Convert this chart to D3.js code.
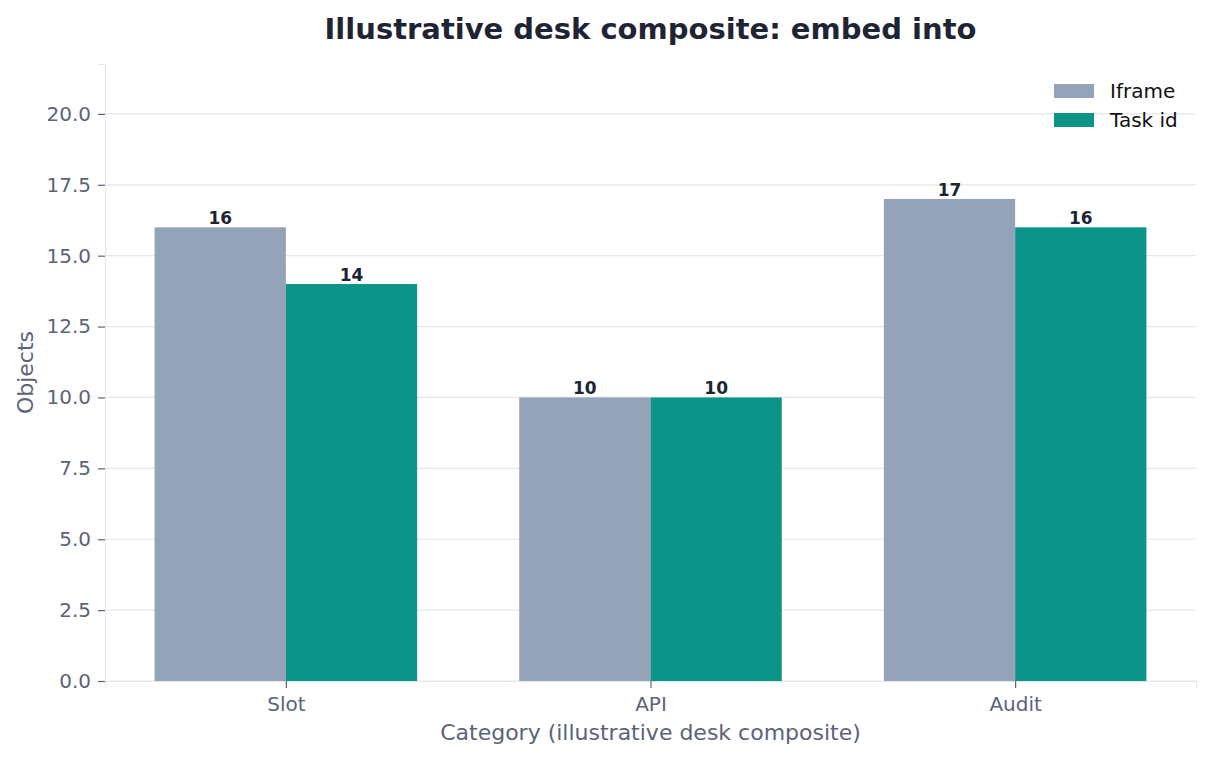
<!DOCTYPE html>
<html>
<head>
<meta charset="utf-8">
<script src="https://cdn.jsdelivr.net/npm/d3@7"></script>
<style>
  body { margin: 0; background: #fff; }
  text { font-family: "DejaVu Sans", sans-serif; }
</style>
</head>
<body>
<div id="chart"></div>
<script>
var categories = ['Slot', 'API', 'Audit'];
var seriesNames = ['Iframe', 'Task id'];
var iframeValues = [16, 10, 17];
var taskIdValues = [14, 10, 16];
var yTicks = [0, 2.5, 5, 7.5, 10, 12.5, 15, 17.5, 20];
var colors = ['#94a3b8', '#0d9488'];

var width = 1212, height = 760;
var margin = {top: 64, right: 16, bottom: 79, left: 105};
var innerW = width - margin.left - margin.right,
  innerH = height - margin.top - margin.bottom;

var svg = d3.select('#chart')
  .append('svg')
  .attr('width', width)
  .attr('height', height);

var g = svg.append('g')
  .attr('transform', 'translate(' + margin.left + ',' + margin.top + ')');

var barW = 0.36;
var xScale = d3.scaleLinear()
  .domain([-barW - 0.136, categories.length - 1 + barW + 0.136])
  .range([0, innerW]);
var yMax = d3.max(iframeValues.concat(taskIdValues)) * 1.28;
var yScale = d3.scaleLinear()
  .domain([0, yMax])
  .range([innerH, 0]);

// grid
g.selectAll('.grid')
  .data(yTicks)
  .enter()
  .append('line')
  .attr('class', 'grid')
  .attr('x1', 0)
  .attr('x2', innerW)
  .attr('y1', function(d) { return yScale(d); })
  .attr('y2', function(d) { return yScale(d); })
  .attr('stroke', '#e5e7eb')
  .attr('stroke-width', 1.2);

var series = [iframeValues, taskIdValues];
series.forEach(function(vals, s) {
  var off = (s === 0 ? -barW : 0);
  g.selectAll('.bar' + s)
    .data(vals)
    .enter()
    .append('rect')
    .attr('fill', colors[s])
    .attr('x', function(d, i) { return xScale(i + off); })
    .attr('y', function(d) { return yScale(d); })
    .attr('width', xScale(barW) - xScale(0))
    .attr('height', function(d) { return innerH - yScale(d); });
  g.selectAll('.lab' + s)
    .data(vals)
    .enter()
    .append('text')
    .attr('x', function(d, i) { return xScale(i + off + barW / 2); })
    .attr('y', function(d) { return yScale(d) - 3; })
    .attr('text-anchor', 'middle')
    .attr('font-size', 17)
    .attr('font-weight', 'bold')
    .attr('fill', '#1e2433')
    .text(function(d) { return d; });
});

// axes
var yAxis = g.append('g')
  .call(d3.axisLeft(yScale).tickValues(yTicks).tickFormat(d3.format('.1f')).tickSize(7).tickPadding(7));
var xAxis = g.append('g')
  .attr('transform', 'translate(0,' + innerH + ')')
  .call(d3.axisBottom(xScale).tickValues(d3.range(categories.length))
    .tickFormat(function(i) { return categories[i]; }).tickSize(7).tickPadding(9));
[yAxis, xAxis].forEach(function(ax) {
  ax.select('.domain').attr('stroke', '#e5e7eb').attr('stroke-width', 1.2);
  ax.selectAll('.tick line').attr('stroke', '#5b6478').attr('stroke-width', 1.2);
  ax.selectAll('.tick text').attr('fill', '#5b6478').attr('font-size', 20)
    .attr('font-family', '"DejaVu Sans", sans-serif');
});

// labels
svg.append('text')
  .attr('x', margin.left + innerW / 2)
  .attr('y', 39)
  .attr('text-anchor', 'middle')
  .attr('font-size', 29)
  .attr('font-weight', 'bold')
  .attr('fill', '#1e2433')
  .text('Illustrative desk composite: embed into');
svg.append('text')
  .attr('x', margin.left + innerW / 2)
  .attr('y', 740)
  .attr('text-anchor', 'middle')
  .attr('font-size', 22)
  .attr('fill', '#5b6478')
  .text('Category (illustrative desk composite)');
svg.append('text')
  .attr('transform', 'translate(33,' + (margin.top + innerH / 2) + ') rotate(-90)')
  .attr('text-anchor', 'middle')
  .attr('font-size', 22)
  .attr('fill', '#5b6478')
  .text('Objects');

// legend
var legend = svg.append('g').attr('transform', 'translate(1054,84)');
seriesNames.forEach(function(name, i) {
  legend.append('rect')
    .attr('x', 0).attr('y', i * 29)
    .attr('width', 40).attr('height', 14)
    .attr('fill', colors[i]);
  legend.append('text')
    .attr('x', 56).attr('y', i * 29 + 14)
    .attr('font-size', 20)
    .attr('fill', '#111')
    .text(name);
});
</script>
</body>
</html>
